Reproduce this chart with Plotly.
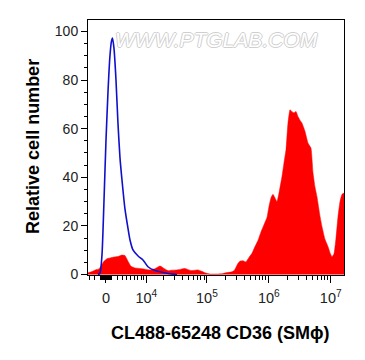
import numpy as np
import plotly.graph_objects as go

# ---- data (fluorescence intensity vs relative cell number) ----
red_x = [-3380, -2560, -1790, -1240, -880, -350, 175, 700, 1420, 2170, 2960, 3600,
         4290, 5040, 6140, 7670, 9460, 11600, 14150, 17200, 20100, 23300, 27200,
         32800, 38000, 44200, 51300, 57300, 71800, 83300, 93100, 112000, 140000,
         175000, 211000, 245000, 274000, 295000, 318000, 342000, 383000, 428000,
         478000, 535000, 598000, 668000, 747000, 836000, 934000, 1006000, 1084000,
         1168000, 1259000, 1355000, 1460000, 1632000, 1759000, 1894000, 2040000,
         2198000, 2366000, 2550000, 2747000, 2959000, 3187000, 3432000, 3838000,
         4290000, 4797000, 5168000, 5568000, 5997000, 6707000, 7224000, 8075000,
         9029000, 9724000, 10476000, 11285000, 12159000, 13094000, 14105000,
         15195000, 16370000]
red_y = [0.7, 1.2, 2.0, 2.3, 3.5, 5.5, 6.5, 6.8, 7.2, 7.4, 8.0, 7.8,
         5.5, 3.4, 2.7, 2.5, 2.2, 1.9, 2.4, 3.5, 2.5, 1.6, 1.8,
         1.9, 2.2, 2.5, 1.9, 1.6, 1.9, 1.3, 0.7, 0.2, 0.2,
         0.3, 0.8, 1.0, 1.5, 3.0, 4.6, 5.5, 5.7, 5.2,
         7.0, 8.7, 11.5, 14.0, 17.5, 20.5, 23.5, 28.0, 31.5,
         33.0, 31.5, 30.0, 33.5, 40.3, 46.0, 51.3, 62.3,
         67.8, 67.0, 66.5, 67.1, 65.0, 63.5, 62.3, 58.9,
         54.1, 52.0, 42.0, 36.0, 32.0, 24.0, 19.7, 14.5,
         11.5, 9.0, 7.3, 8.5, 15.0, 23.8, 30.0,
         33.0, 33.5]

blue_x = [-1420, -1060, -700, -350, 0, 350, 700, 968, 1147, 1420, 1790, 2170,
          2560, 2960, 3600, 4290, 4780, 5550, 7040, 8710, 10700, 14150, 19300,
          25100, 32800]
blue_y = [0, 0.5, 8, 30, 55, 75, 90, 96, 97.3, 93, 80, 62,
          48, 39, 27, 19, 14.2, 10.1, 7.6, 6.0, 3.2, 1.6, 0.8,
          0.3, 0]

major_ticks = [0, 1e4, 1e5, 1e6, 1e7]
major_labels = ["0", "10<sup>4</sup>", "10<sup>5</sup>", "10<sup>6</sup>", "10<sup>7</sup>"]
x_limits = [-3380, 16370000]
y_ticks = [0, 20, 40, 60, 80, 100]
y_limits = [-0.2, 104.7]

x_title = "CL488-65248 CD36 (SMϕ)"
y_title = "Relative cell number"
watermark = "WWW.PTGLAB.COM"

# ---- biexponential-like (arcsinh) display transform ----
W = 4700.0
def tr(v):
    return np.arcsinh(np.asarray(v, dtype=float) / W)

minor_vals = []
for s in (-1, 1):
    for m in range(1, 10):
        minor_vals.append(s * m * 100)
        minor_vals.append(s * m * 1000)
for dec in (1e4, 1e5, 1e6):
    for m in range(2, 10):
        minor_vals.append(m * dec)
minor_vals = [v for v in minor_vals if x_limits[0] <= v <= x_limits[1]]

font_family = "Liberation Sans, Arial, sans-serif"

fig = go.Figure()
fig.add_trace(go.Scatter(
    x=tr(red_x), y=red_y, mode="lines", fill="tozeroy",
    line=dict(color="#ff0000", width=0.5, shape="spline", smoothing=0.4),
    fillcolor="#ff0000", hoverinfo="skip", showlegend=False))
fig.add_trace(go.Scatter(
    x=tr(blue_x), y=blue_y, mode="lines",
    line=dict(color="#1010cc", width=1.6, shape="spline", smoothing=0.6),
    hoverinfo="skip", showlegend=False))

fig.update_layout(
    width=365, height=360,
    margin=dict(l=80, r=29, t=12, b=93, autoexpand=False),
    paper_bgcolor="white", plot_bgcolor="white",
    font=dict(family=font_family, size=14, color="#222"),
    xaxis=dict(
        range=list(tr(x_limits)), showgrid=False, zeroline=False,
        showline=True, linecolor="black", linewidth=1, mirror=True,
        tickmode="array", tickvals=list(tr(major_ticks)), ticktext=major_labels,
        ticks="outside", ticklen=7, tickwidth=1, tickcolor="black",
        tickfont=dict(size=14.5, color="#222"), ticklabelstandoff=3,
        minor=dict(tickmode="array", tickvals=list(tr(minor_vals)),
                   ticks="outside", ticklen=4, tickwidth=1, tickcolor="black"),
    ),
    yaxis=dict(
        range=y_limits, showgrid=False, zeroline=False,
        showline=True, linecolor="black", linewidth=1, mirror=True,
        tickmode="array", tickvals=y_ticks,
        ticks="outside", ticklen=6, tickwidth=1, tickcolor="black",
        tickfont=dict(size=14, color="#222"),
        minor=dict(tickmode="array", tickvals=[v for v in range(5, 100, 5) if v % 20],
                   ticks="outside", ticklen=3, tickwidth=1, tickcolor="black"),
    ),
    annotations=[
        dict(text=x_title, xref="paper", yref="paper", x=0.5195, y=-0.2275,
             xanchor="center", yanchor="middle", showarrow=False,
             font=dict(family=font_family, size=18, color="black", weight="bold")),
        dict(text=y_title, xref="paper", yref="paper", x=-0.215, y=0.506,
             xanchor="center", yanchor="middle", textangle=-90, showarrow=False,
             font=dict(family=font_family, size=18, color="black", weight="bold")),
        dict(text=watermark, xref="paper", yref="paper", x=0.5, y=0.925,
             xanchor="center", yanchor="middle", showarrow=False,
             font=dict(family="Liberation Sans Narrow, Liberation Sans, sans-serif",
                       size=21, color="white", style="italic",
                       shadow="1px 0 #cfcfcf, -1px 0 #cfcfcf, 0 1px #cfcfcf, 0 -1px #cfcfcf")),
    ],
)

fig.write_html("out.html")
